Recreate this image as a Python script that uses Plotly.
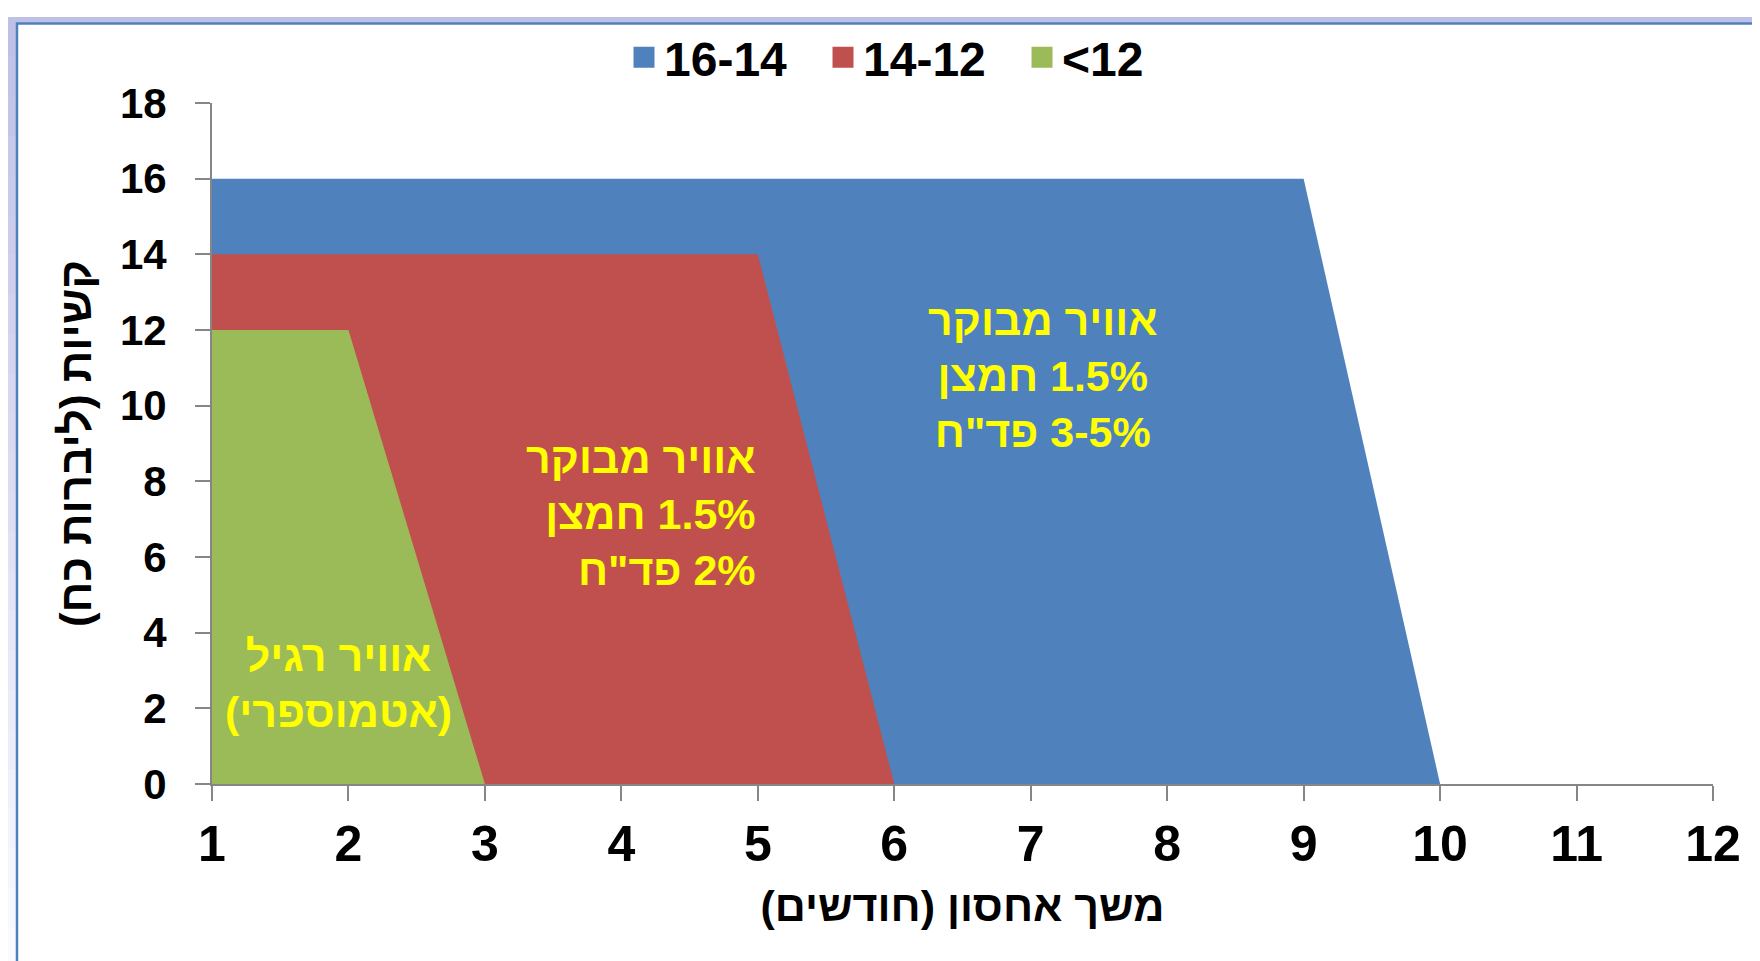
"""Firmness vs. storage duration under three storage atmospheres (area chart)."""

import plotly.graph_objects as go

# Area outlines: storage months vs firmness (lbf)
months_blue = [1, 9, 10]
firm_blue = [16, 16, 0]
months_red = [1, 5, 6]
firm_red = [14, 14, 0]
months_green = [1, 2, 3]
firm_green = [12, 12, 0]

series_names = ["16-14", "14-12", "<12"]
series_colors = ["#4F81BD", "#C0504D", "#9BBB59"]

x_ticks = list(range(1, 13))
y_ticks = list(range(0, 19, 2))

x_title = "משך אחסון (חודשים)"
y_title = "קשיות (ליברות כח)"

label_green = ["אוויר רגיל", "(אטמוספרי)"]
label_red = ["אוויר מבוקר", "1.5% חמצן", "2% פד\"ח"]
label_blue = ["אוויר מבוקר", "1.5% חמצן", "3-5% פד\"ח"]

W, H = 1760, 961
L, R, T, B = 204, 55, 87, 185
FONT = "Liberation Sans, Arial, sans-serif"
AXIS_GRAY = "#868686"
YELLOW = "#FFFF00"


def rtl(text: str) -> str:
    """Wrap a Hebrew line in a right-to-left embedding so it reads correctly."""
    return "\u202b" + text + "\u202c"


def rtl_lines(lines: list) -> str:
    return "<br>".join(rtl(s) for s in lines)


def px_x(px: float) -> float:
    return (px - L) / (W - L - R)


def px_y(py: float) -> float:
    return (H - B - py) / (H - T - B)


fig = go.Figure()

# Filled areas, blue behind, green in front
for xs, ys, color in [
    (months_blue, firm_blue, series_colors[0]),
    (months_red, firm_red, series_colors[1]),
    (months_green, firm_green, series_colors[2]),
]:
    fig.add_trace(go.Scatter(
        x=xs,
        y=ys,
        mode="lines",
        fill="tozeroy",
        fillcolor=color,
        line=dict(width=0, color=color),
        showlegend=False,
        hoverinfo="skip",
    ))

# Legend entries as square swatches
for name, color in zip(series_names, series_colors):
    fig.add_trace(go.Scatter(
        x=[None],
        y=[None],
        mode="markers",
        name=name,
        marker=dict(symbol="square", size=16, color=color,
                    line=dict(width=5, color=color)),
    ))

# Outer frame: lavender fade behind, white panel with blue border
shapes = []
n_bands = 24
top_rgb = (192, 192, 230)
bot_rgb = (250, 250, 254)
for i in range(n_bands):
    f = i / (n_bands - 1)
    c = tuple(round(a + (b - a) * f) for a, b in zip(top_rgb, bot_rgb))
    shapes.append(dict(
        type="rect", xref="paper", yref="paper", layer="below",
        x0=px_x(0), x1=px_x(W),
        y0=px_y(H * (i + 1) / n_bands + 1), y1=px_y(H * i / n_bands),
        fillcolor="rgb(%d,%d,%d)" % c, line=dict(width=0),
    ))
shapes.append(dict(
    type="rect", xref="paper", yref="paper", layer="below",
    x0=px_x(9), x1=px_x(1753), y0=px_y(975), y1=px_y(6.5),
    fillcolor="white", line=dict(color="#4F81BD", width=2.5),
))

annotations = [
    dict(x=1.93, y=2.64, text=rtl_lines(label_green), xanchor="center", align="center"),
    dict(x=5.0, y=7.13, text=rtl_lines(label_red), xanchor="right", align="right"),
    dict(x=7.09, y=10.79, text=rtl_lines(label_blue), xanchor="center", align="center"),
]
for a in annotations:
    a.update(xref="x", yref="y", yanchor="middle", showarrow=False,
             font=dict(family=FONT, size=43, color=YELLOW, weight="bold"))

fig.update_layout(
    width=W,
    height=H,
    margin=dict(l=L, r=R, t=T, b=B),
    paper_bgcolor="white",
    plot_bgcolor="white",
    font=dict(family=FONT, color="black", weight="bold"),
    shapes=shapes,
    annotations=annotations,
    showlegend=True,
    legend=dict(
        orientation="h",
        x=px_x(616),
        xanchor="left",
        y=px_y(41),
        yanchor="middle",
        entrywidth=154,
        entrywidthmode="pixels",
        font=dict(family=FONT, size=48, color="black", weight="bold"),
        bgcolor="rgba(0,0,0,0)",
        itemclick=False,
        itemdoubleclick=False,
    ),
)

fig.update_xaxes(
    range=[1, 12],
    tickvals=x_ticks,
    ticks="outside",
    ticklen=15,
    tickwidth=2,
    tickcolor=AXIS_GRAY,
    showline=True,
    linecolor=AXIS_GRAY,
    linewidth=2,
    showgrid=False,
    zeroline=False,
    tickfont=dict(family=FONT, size=50, color="black", weight="bold"),
    ticklabelstandoff=0,
    title=dict(text=rtl(x_title), standoff=20,
               font=dict(family=FONT, size=43, color="black", weight="bold")),
)

fig.update_yaxes(
    range=[0, 18],
    tickvals=y_ticks,
    ticks="outside",
    ticklen=15,
    tickwidth=2,
    tickcolor=AXIS_GRAY,
    showline=True,
    linecolor=AXIS_GRAY,
    linewidth=2,
    showgrid=False,
    zeroline=False,
    tickfont=dict(family=FONT, size=42, color="black", weight="bold"),
    ticklabelstandoff=20,
    title=dict(text=rtl(y_title), standoff=14,
               font=dict(family=FONT, size=44, color="black", weight="bold")),
)

fig.write_html("out.html")
